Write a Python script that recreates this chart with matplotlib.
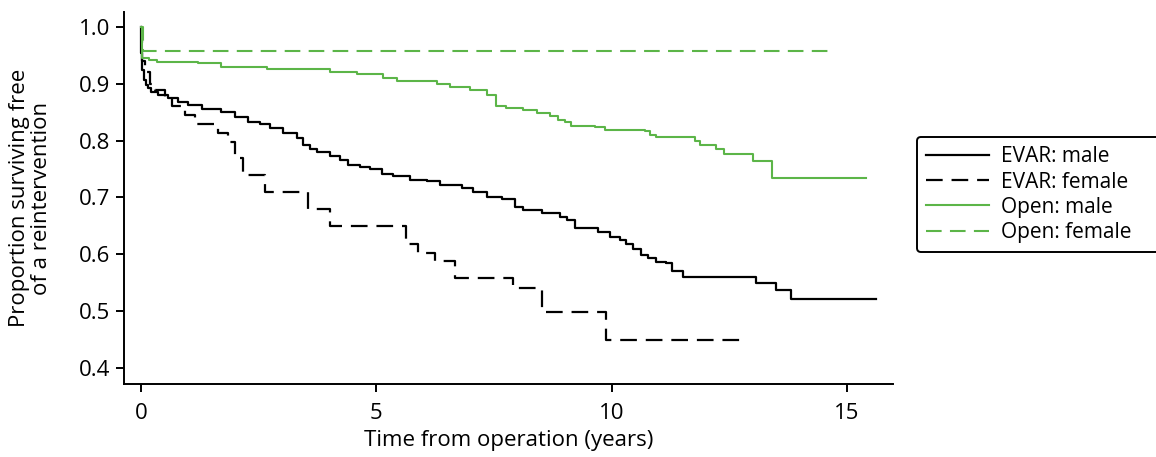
import matplotlib.pyplot as plt

plt.rcParams['font.family'] = ['Open Sans', 'DejaVu Sans']

# Kaplan-Meier estimates as step functions (time in years, proportion free of reintervention)
evar_male_t = [0, 0.01, 0.03, 0.06, 0.10, 0.15, 0.22, 0.37, 0.58, 0.79, 1.0, 1.29, 1.71,
               2.0, 2.28, 2.53, 2.74, 3.02, 3.31, 3.45, 3.59, 3.73, 4.01, 4.23, 4.40,
               4.65, 4.86, 5.11, 5.36, 5.71, 6.07, 6.35, 6.81, 7.06, 7.34, 7.66, 7.94,
               8.12, 8.51, 8.90, 9.04, 9.21, 9.71, 9.96, 10.17, 10.31, 10.45, 10.63,
               10.77, 10.95, 11.16, 11.27, 11.51, 13.07, 13.48, 13.81, 15.62]
evar_male_s = [1.0, 0.954, 0.924, 0.907, 0.898, 0.892, 0.886, 0.880, 0.874, 0.868, 0.863,
               0.855, 0.851, 0.842, 0.833, 0.830, 0.822, 0.813, 0.805, 0.792, 0.785, 0.780,
               0.772, 0.766, 0.757, 0.754, 0.750, 0.742, 0.738, 0.731, 0.729, 0.722, 0.716,
               0.710, 0.701, 0.697, 0.684, 0.678, 0.672, 0.666, 0.660, 0.646, 0.640, 0.631,
               0.625, 0.619, 0.610, 0.599, 0.593, 0.587, 0.584, 0.570, 0.560, 0.550, 0.537,
               0.521, 0.521]

evar_female_t = [0, 0.03, 0.08, 0.2, 0.3, 0.5, 0.65, 0.93, 1.15, 1.64, 1.85, 2.0, 2.17,
                 2.63, 3.55, 4.01, 5.64, 5.89, 6.24, 6.67, 7.90, 8.52, 9.87, 12.89]
evar_female_s = [1.0, 0.94, 0.92, 0.90, 0.889, 0.875, 0.860, 0.845, 0.830, 0.814, 0.798,
                 0.769, 0.739, 0.710, 0.679, 0.650, 0.619, 0.603, 0.588, 0.558, 0.540,
                 0.499, 0.449, 0.449]

open_male_t = [0, 0.02, 0.16, 0.33, 1.22, 1.71, 2.67, 4.01, 4.58, 5.14, 5.43, 6.28, 6.56,
               6.98, 7.34, 7.55, 7.76, 8.12, 8.41, 8.68, 8.85, 9.0, 9.14, 9.64, 9.85,
               10.70, 10.81, 10.95, 11.76, 11.87, 12.22, 12.38, 13.01, 13.41, 15.40]
open_male_s = [1.0, 0.945, 0.942, 0.939, 0.936, 0.930, 0.926, 0.921, 0.917, 0.910, 0.905,
               0.900, 0.894, 0.889, 0.880, 0.860, 0.857, 0.854, 0.848, 0.844, 0.837, 0.832,
               0.826, 0.823, 0.819, 0.816, 0.810, 0.807, 0.799, 0.792, 0.785, 0.776, 0.764,
               0.735, 0.735]

open_female_t = [0, 0.04, 14.59]
open_female_s = [1.0, 0.958, 0.958]

green = '#5cb548'

fig = plt.figure(figsize=(11.56, 4.57), dpi=100)
ax = fig.add_axes([0.1073, 0.1597, 0.665, 0.814])

ax.step(evar_male_t, evar_male_s, where='post', color='black', lw=1.6, label='EVAR: male')
ax.step(evar_female_t, evar_female_s, where='post', color='black', lw=1.6,
        dashes=(7.5, 4), label='EVAR: female')
ax.step(open_male_t, open_male_s, where='post', color=green, lw=1.5, label='Open: male')
ax.step(open_female_t, open_female_s, where='post', color=green, lw=1.5,
        dashes=(7.5, 4), label='Open: female')

ax.set_xlim(-0.36, 15.97)
ax.set_ylim(0.372, 1.026)
ax.set_xticks([0, 5, 10, 15])
ax.set_yticks([0.4, 0.5, 0.6, 0.7, 0.8, 0.9, 1.0])
ax.set_yticklabels(['0.4', '0.5', '0.6', '0.7', '0.8', '0.9', '1.0'])
ax.tick_params(labelsize=16, length=6, width=1.4, pad=4)
ax.tick_params(axis='x', pad=8)
for side in ['top', 'right']:
    ax.spines[side].set_visible(False)
for side in ['left', 'bottom']:
    ax.spines[side].set_linewidth(1.4)

ax.set_xlabel('Time from operation (years)', fontsize=16, labelpad=4)
ax.set_ylabel('Proportion surviving free\nof a reintervention', fontsize=16,
              linespacing=1.1, labelpad=19)

# legend frame runs on past the right edge of the figure
leg = fig.legend(loc='upper left', bbox_to_anchor=(0.7932, 0.40, 0.225, 0.3002),
                 mode='expand', fontsize=15, frameon=True, fancybox=True,
                 handlelength=3.0, handletextpad=0.6, labelspacing=0.2,
                 borderpad=0.45, borderaxespad=0, edgecolor='black', framealpha=1)
leg.get_frame().set_linewidth(1.4)

fig.savefig('out.png', dpi=100)
